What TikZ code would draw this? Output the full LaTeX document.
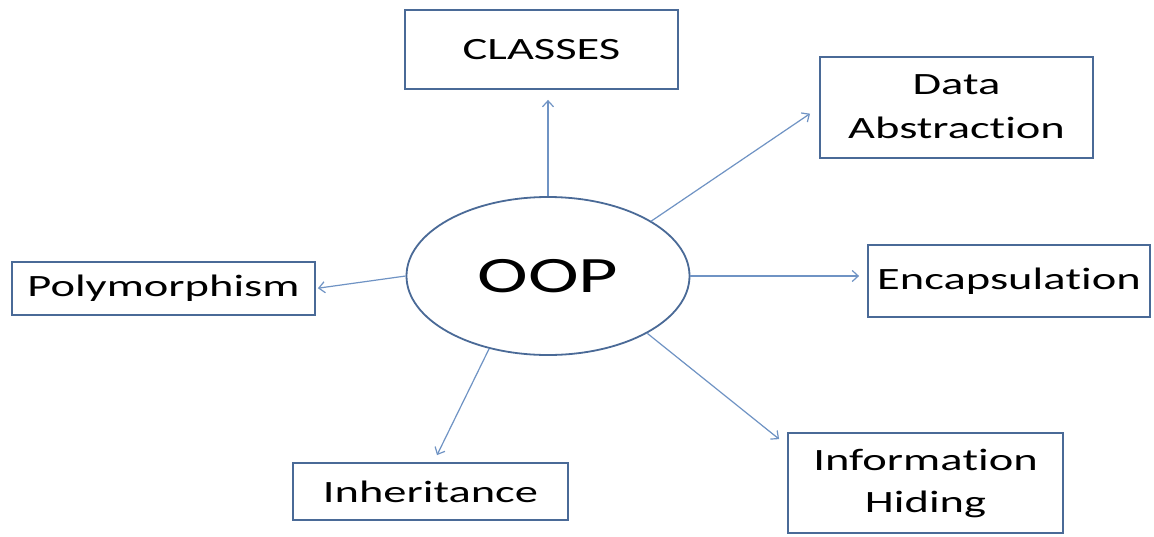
\documentclass[tikz,border=0pt]{standalone}
\usepackage{fontspec}
\usepackage{graphicx}
\setmainfont[RawFeature={-liga;-calt;-clig;-dlig}]{Carlito}
\usetikzlibrary{arrows.meta,shapes.geometric}
\definecolor{boxline}{HTML}{4A6A97}
\definecolor{arrowline}{HTML}{6F93C4}
\newcommand{\wide}[1]{\scalebox{1.5}[1]{#1}}
\begin{document}
\begin{tikzpicture}[x=1pt,y=-1pt,
  box/.style={draw=boxline,line width=1.8pt,fill=white,inner sep=0pt,font=\fontsize{31}{44}\selectfont},
  conn/.style={draw=arrowline,line width=1.2pt,-{Straight Barb[length=6pt,width=11pt]}}]
\useasboundingbox (0,0) rectangle (1154,536);
\fill[white] (0,0) rectangle (1154,536);
\node[box,minimum width=273pt,minimum height=79pt] (classes) at (541.5,49.5) {\raisebox{-3pt}{\wide{CLASSES}}};
\node[box,minimum width=273pt,minimum height=101pt] (data) at (956.5,107.5) {\wide{\begin{tabular}{@{}c@{}}Data\\[-0.5pt]Abstrac\kern0pt tion\end{tabular}}};
\node[box,minimum width=282pt,minimum height=72pt] (encap) at (1009,281) {\wide{Encapsula\kern0pt tion}};
\node[box,minimum width=275pt,minimum height=100pt] (info) at (925.5,483) {\wide{\begin{tabular}{@{}c@{}}Informa\kern0pt tion\\[-2pt]Hiding\end{tabular}}};
\node[box,minimum width=275pt,minimum height=57pt] (inher) at (430.5,491.5) {\wide{Inheritance}};
\node[box,minimum width=303pt,minimum height=53pt] (poly) at (163.5,288.5) {\wide{Polymorphism}};
\node[ellipse,draw=boxline,line width=1.8pt,fill=white,minimum width=283pt,minimum height=158pt,inner sep=0pt,font=\fontsize{51}{60}\selectfont] (oop) at (548,276) {\wide{OOP}};
\draw[conn,shorten >=10pt] (oop.north) -- (oop.north |- classes.south);
\draw[conn,shorten >=11pt] (oop.28) -- (data.west);
\draw[conn,shorten >=8pt] (oop.east) -- (oop.east -| encap.west);
\draw[conn] (oop.-30) -- ([shift={(-8,7)}]info.north west);
\draw[conn] (oop.-129.5) -- ([shift={(6.5,-7)}]inher.north);
\draw[conn,shorten >=2pt] (oop.west) -- (poly.east);
\end{tikzpicture}
\end{document}
